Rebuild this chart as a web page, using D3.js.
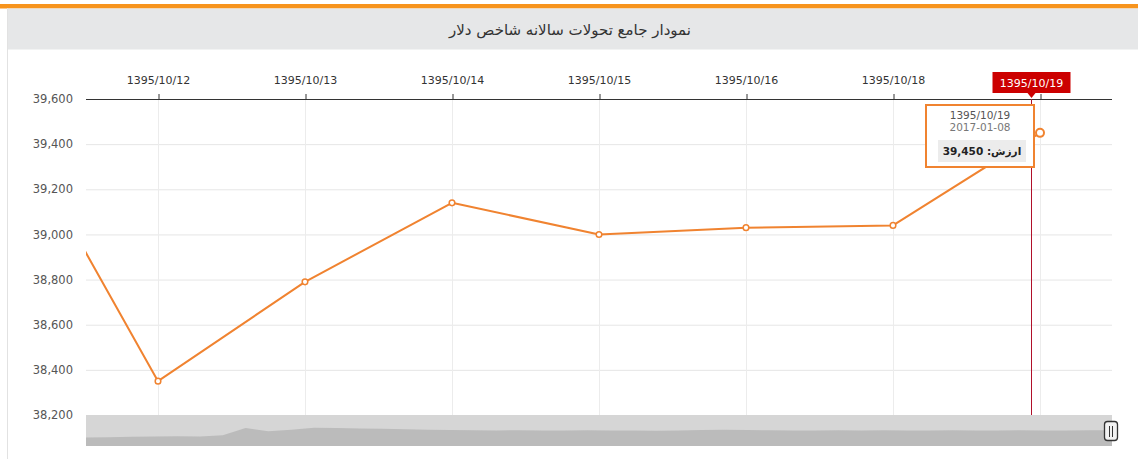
<!DOCTYPE html>
<html>
<head>
<meta charset="utf-8">
<script src="https://cdn.jsdelivr.net/npm/d3@7"></script>
<style>
  body { margin: 0; background: #fff; }
  svg { display: block; font-family: "DejaVu Sans", Verdana, sans-serif; }
</style>
</head>
<body>
<svg id="drawing_region"></svg>
<script>
// dates (jalali) shown on the top axis, 10/17 is a holiday so it is missing
const dates = ["1395/10/11", "1395/10/12", "1395/10/13", "1395/10/14", "1395/10/15", "1395/10/16", "1395/10/18", "1395/10/19"];
const values = [39510, 38350, 38790, 39140, 39000, 39030, 39040, 39450];
const yTicks = [38200, 38400, 38600, 38800, 39000, 39200, 39400, 39600];
const navValues = [33300, 33400, 33600, 33700, 33800, 33700, 34200, 37000, 35700, 36300, 37100, 37000,
                   36800, 36700, 36500, 36300, 36200, 36100, 36000, 36100, 36000, 36000, 36100, 36000,
                   36000, 35900, 36000, 36200, 36300, 36200, 36100, 36000, 36000, 36100, 36000, 36100,
                   36000, 36000, 36100, 36000, 36000, 36100, 36000, 36000, 36100, 36100];
const title = "نمودار جامع تحولات سالانه شاخص دلار";
const tipGregorian = "2017-01-08";
const tipLabel = "ارزش: ";

const W = 1138, H = 459;
const svg = d3.select("#drawing_region").attr("width", W).attr("height", H);

// frame + header
svg.append("rect").attr("x", 0).attr("y", 4).attr("width", W).attr("height", 4.5).attr("fill", "#f7941d");
svg.append("rect").attr("x", 7).attr("y", 8.5).attr("width", W - 7).attr("height", 41).attr("fill", "#e6e7e8");
svg.append("line").attr("x1", 7.5).attr("x2", 7.5).attr("y1", 8).attr("y2", H).attr("stroke", "#e2e2e2");
svg.append("text")
    .attr("x", 570).attr("y", 35)
    .attr("text-anchor", "middle")
    .attr("font-size", 15)
    .attr("fill", "#333")
    .text(title);

const plot = {left: 86, right: 1112, top: 99, bottom: 415};

const xscale = d3.scaleLinear().domain([0, dates.length - 1]).range([11, 1040]);
const yscale = d3.scaleLinear().domain([38200, 39600]).range([plot.bottom, plot.top]);

// horizontal grid
svg.append("g").selectAll("line").data(yTicks.slice(1)).join("line")
    .attr("x1", plot.left).attr("x2", plot.right)
    .attr("y1", d => yscale(d) + 0.5).attr("y2", d => yscale(d) + 0.5)
    .attr("stroke", "#e6e6e6");

const shown = d3.range(dates.length).filter(i => xscale(i) >= plot.left && xscale(i) <= plot.right);
const last = values.length - 1;

// vertical grid
svg.append("g").selectAll("line").data(shown).join("line")
    .attr("x1", d => Math.round(xscale(d)) + 0.5).attr("x2", d => Math.round(xscale(d)) + 0.5)
    .attr("y1", plot.top).attr("y2", plot.bottom)
    .attr("stroke", "#ececec");

// y axis labels
const yaxis = d3.axisLeft(yscale).tickValues(yTicks).tickSize(0).tickPadding(13).tickFormat(d3.format(","));
svg.append("g").attr("transform", `translate(${plot.left},0)`).call(yaxis)
    .call(g => g.select(".domain").remove())
    .call(g => g.selectAll("text").attr("font-size", 11.5).attr("fill", "#555").attr("font-family", "DejaVu Sans"));

// top x axis (label of the last date is covered by the crosshair label)
const xaxis = d3.axisTop(xscale).tickValues(shown).tickSize(5).tickPadding(10).tickFormat(i => dates[i]);
svg.append("g").attr("transform", `translate(0,${plot.top})`).call(xaxis)
    .call(g => g.select(".domain").remove())
    .call(g => g.selectAll("line").attr("stroke", "#333").attr("transform", d => `translate(${Math.round(xscale(d)) + 0.5 - xscale(d)},0)`))
    .call(g => g.selectAll("text").attr("font-size", 11).attr("fill", "#333").attr("font-family", "DejaVu Sans"))
    .call(g => g.selectAll(".tick").filter(d => d === last).select("text").remove());
svg.append("line").attr("x1", plot.left).attr("x2", plot.right)
    .attr("y1", plot.top + 0.5).attr("y2", plot.top + 0.5).attr("stroke", "#333");

// clip for the series
svg.append("clipPath").attr("id", "clip").append("rect")
    .attr("x", plot.left).attr("y", plot.top - 10).attr("width", plot.right - plot.left).attr("height", plot.bottom - plot.top + 10);

const series = svg.append("g").attr("clip-path", "url(#clip)");
const line = d3.line().x((d, i) => xscale(i)).y(d => yscale(d));
series.append("path").datum(values)
    .attr("d", line)
    .attr("fill", "none")
    .attr("stroke", "#f08330")
    .attr("stroke-width", 2)
    .attr("stroke-linejoin", "round");
series.selectAll("circle").data(values).join("circle")
    .attr("cx", (d, i) => xscale(i)).attr("cy", d => yscale(d))
    .attr("r", (d, i) => i === last ? 4 : 2.8)
    .attr("fill", "#fff")
    .attr("stroke", "#f08330")
    .attr("stroke-width", (d, i) => i === last ? 2 : 1.5);

// navigator
const navX = d3.scaleLinear().domain([0, navValues.length - 1]).range([plot.left, plot.right]);
const navY = d3.scaleLinear().domain([30000, 42000]).range([446, 415]);
svg.append("rect").attr("x", plot.left).attr("y", 415).attr("width", plot.right - plot.left).attr("height", 31).attr("fill", "#d6d6d6");
svg.append("path").datum(navValues)
    .attr("d", d3.area().x((d, i) => navX(i)).y0(446).y1(d => navY(d)))
    .attr("fill", "#bbbbbb");
// handle
svg.append("rect").attr("x", 1104.5).attr("y", 421.5).attr("width", 13).attr("height", 19).attr("rx", 3)
    .attr("fill", "#f2f2f2").attr("stroke", "#333").attr("stroke-width", 1.3);
svg.append("line").attr("x1", 1109.5).attr("x2", 1109.5).attr("y1", 426).attr("y2", 437).attr("stroke", "#333");
svg.append("line").attr("x1", 1112.5).attr("x2", 1112.5).attr("y1", 426).attr("y2", 437).attr("stroke", "#333");

// crosshair at hovered point
const cx = Math.round(xscale(last)) - 9 + 0.5;
svg.append("line").attr("x1", cx).attr("x2", cx).attr("y1", plot.top).attr("y2", plot.bottom)
    .attr("stroke", "#b0102a").attr("stroke-width", 1);

// crosshair label
const lab = svg.append("g").attr("transform", `translate(${cx},0)`);
lab.append("rect").attr("x", -39).attr("y", 72).attr("width", 78).attr("height", 21).attr("fill", "#cc0000");
lab.append("path").attr("d", "M-4,93L0,98L4,93Z").attr("fill", "#cc0000");
lab.append("text").attr("x", 0).attr("y", 86.5).attr("text-anchor", "middle")
    .attr("font-size", 11).attr("fill", "#fff").text(dates[last]);

// tooltip
const tip = svg.append("g");
tip.append("rect").attr("x", 926).attr("y", 105).attr("width", 108).attr("height", 62)
    .attr("fill", "#fff").attr("stroke", "#f08330").attr("stroke-width", 2);
tip.append("text").attr("x", 980).attr("y", 119).attr("text-anchor", "middle")
    .attr("font-size", 10.5).attr("fill", "#555").text(dates[last]);
tip.append("text").attr("x", 980).attr("y", 131).attr("text-anchor", "middle")
    .attr("font-size", 10.5).attr("fill", "#777").text(tipGregorian);
tip.append("rect").attr("x", 938).attr("y", 140).attr("width", 88).attr("height", 22).attr("fill", "#ececec");
tip.append("text").attr("x", 982).attr("y", 155).attr("text-anchor", "middle")
    .attr("font-size", 10.5).attr("font-weight", "bold").attr("fill", "#222")
    .text(tipLabel + d3.format(",")(values[last]));
</script>
</body>
</html>
